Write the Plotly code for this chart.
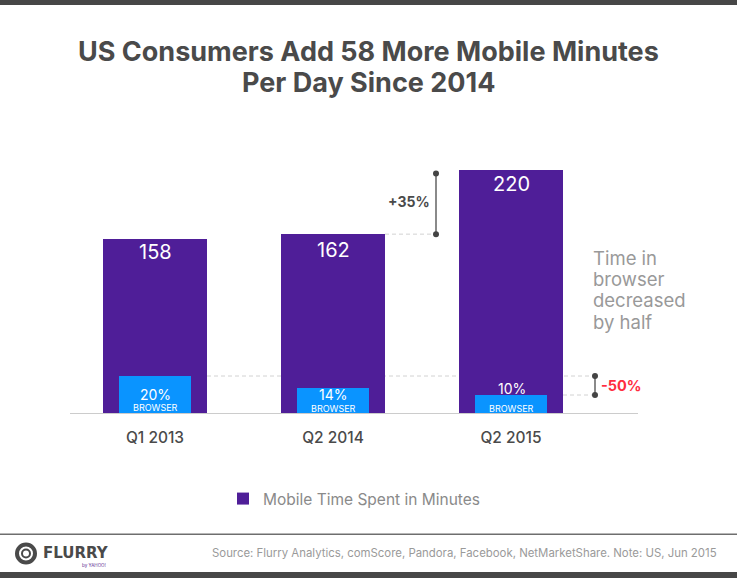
import plotly.graph_objects as go

W, H = 737, 578
categories = ["Q1 2013", "Q2 2014", "Q2 2015"]
total_minutes = [158, 162, 220]
browser_minutes = [33.5, 22.7, 16.3]
browser_share = ["20%", "14%", "10%"]
growth_bracket_top = 217
series_name = "Mobile Time Spent in Minutes"
growth_label = "+35%"
drop_label = "-50%"
side_note = ["Time in", "browser", "decreased", "by half"]
title_lines = ["US Consumers Add 58 More Mobile Minutes", "Per Day Since 2014"]
source_text = "Source: Flurry Analytics, comScore, Pandora, Facebook, NetMarketShare. Note: US, Jun 2015"

FONT = "Inter"
PURPLE, BLUE = "#4f1e98", "#0a94ff"
L, R, T, B = 70, 638, 110, 413
PX_PER_STEP = 178
X0 = 155
PX_PER_UNIT = 1.104
xr = [(L - X0) / PX_PER_STEP, (R - X0) / PX_PER_STEP]
yr = [0, (B - T) / PX_PER_UNIT]
xat = lambda v: (v - X0) / PX_PER_STEP
xp = lambda v: (v - L) / (R - L)
py = lambda v: 1 - (v - T) / (B - T)
positions = list(range(len(categories)))

fig = go.Figure()
fig.add_trace(go.Bar(x=positions, y=total_minutes, width=0.584, name=series_name,
                     marker=dict(color=PURPLE, line_width=0), showlegend=True))
fig.add_trace(go.Bar(x=positions, y=browser_minutes, width=0.4, name="Browser",
                     marker=dict(color=BLUE, line_width=0), showlegend=False))

bracket = dict(mode="lines+markers", showlegend=False, hoverinfo="skip",
               line=dict(color="#8a8a8a", width=2), marker=dict(color="#444444", size=6))
fig.add_trace(go.Scatter(x=[xat(436)] * 2, y=[total_minutes[1], growth_bracket_top], **bracket))
fig.add_trace(go.Scatter(x=[xat(595)] * 2, y=[browser_minutes[2], browser_minutes[0]], **bracket))

shapes = []
def hline(x0, x1, y):
    shapes.append(dict(type="line", xref="x", yref="y", x0=xat(x0), x1=xat(x1), y0=y, y1=y,
                       line=dict(color="#d2d2d2", width=1, dash="4px,3px"), layer="below"))
hline(385, 436, total_minutes[1])
hline(207, 595, browser_minutes[0])
hline(563, 595, browser_minutes[2])

def band(y0, y1, color):
    shapes.append(dict(type="rect", xref="paper", yref="paper", x0=xp(0), x1=xp(W),
                       y0=py(y0), y1=py(y1), fillcolor=color, line_width=0))

band(0, 5, "#474747")
band(533.5, 535, "#6e6e6e")
band(572, 578, "#474747")
shapes.append(dict(type="circle", xref="paper", yref="paper", x0=xp(17), x1=xp(35), y0=py(562.5), y1=py(544.5),
                   fillcolor="rgba(0,0,0,0)", line=dict(color="#4a4a4a", width=4)))
shapes.append(dict(type="circle", xref="paper", yref="paper", x0=xp(22), x1=xp(30), y0=py(557.5), y1=py(549.5),
                   fillcolor="rgba(0,0,0,0)", line=dict(color="#4a4a4a", width=2)))

ann = []
def text(x, y, s, size, color, bold=False, anchor="center", family=FONT):
    ann.append(dict(xref="paper", yref="paper", x=xp(x), y=py(y), text=f"<b>{s}</b>" if bold else s,
                    showarrow=False, xanchor=anchor, yanchor="middle",
                    font=dict(family=family, size=size, color=color)))

for line, y in zip(title_lines, [52, 83]):
    text(368.5, y, line, 27, "#4a4a4a", True)
bar_x = [155, 333, 511.5]
for cx, v, yc in zip(bar_x, total_minutes, [252, 250, 184]):
    text(cx, yc, str(v), 20, "#ffffff")
for cx, s, ys, yb in zip(bar_x, browser_share, [394, 394, 388], [407, 408, 408]):
    text(cx, ys, s, 14, "#ffffff")
    text(cx, yb, "BROWSER", 9, "#ffffff")
text(432, 201, growth_label, 14, "#4a4a4a", True, "right")
text(599, 385, drop_label, 14.5, "#ff2d3f", True, "left")
for s, y in zip(side_note, [258, 279, 300, 322]):
    text(591, y, s, 18.5, "#999999", False, "left")
text(210, 553, source_text, 11.4, "#9a9a9a", False, "left")
text(41, 553, "FLURRY", 15, "#4a4a4a", True, "left", "DejaVu Sans")
text(108, 565, "by YAHOO!", 4.5, "#5c2d91", False, "right")

fig.update_layout(
    width=W, height=H, barmode="overlay", paper_bgcolor="#ffffff", plot_bgcolor="#ffffff",
    margin=dict(l=L, r=W - R, t=T, b=H - B),
    font=dict(family=FONT),
    xaxis=dict(range=xr, tickvals=positions, ticktext=categories, showgrid=False, zeroline=False,
               showline=True, linecolor="#cccccc", linewidth=1, ticks="", ticklabelstandoff=10,
               tickfont=dict(family=FONT, size=15.5, color="#4a4a4a", weight=500)),
    yaxis=dict(range=yr, visible=False, showgrid=False, zeroline=False),
    legend=dict(orientation="h", xanchor="left", yanchor="middle", x=xp(223), y=py(499),
                font=dict(family=FONT, size=15.5, color="#8a8a8a")),
    shapes=shapes, annotations=ann, bargap=0,
)
fig.write_html("out.html", config=dict(displayModeBar=False),
               post_script="document.body.style.margin='0';document.documentElement.style.overflow='hidden';")
